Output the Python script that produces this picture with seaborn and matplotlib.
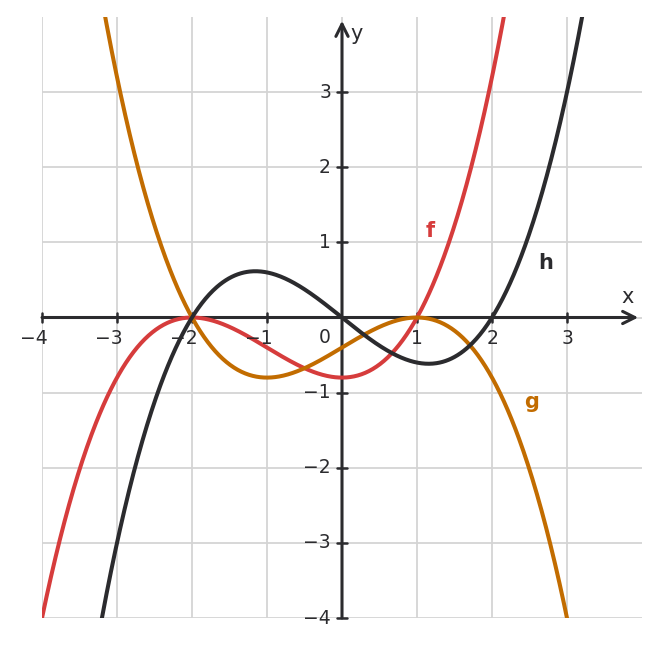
import numpy as np
import pandas as pd
import matplotlib
matplotlib.use("Agg")
import matplotlib.pyplot as plt
import seaborn as sns

# polynomial coefficients (highest power first)
f_coef = [0.2, 0.6, 0.0, -0.8]      # f = 0.2(x+2)^2(x-1)
g_coef = [-0.2, 0.0, 0.6, -0.4]     # g = -0.2(x+2)(x-1)^2
h_coef = [0.2, 0.0, -0.8, 0.0]      # h = 0.2x(x^2-4)

ticks = [-4, -3, -2, -1, 1, 2, 3]
yticks = [-4, -3, -2, -1, 1, 2, 3]

red = "#d63c3c"
orange = "#c26c00"
dark = "#2b2b2e"

sns.set_theme(style="white")
plt.rcParams['font.family'] = ['DejaVu Sans']

xs = np.linspace(-4, 4, 801)
df = pd.DataFrame({
    "x": np.concatenate([xs, xs, xs]),
    "y": np.concatenate([np.polyval(f_coef, xs), np.polyval(g_coef, xs), np.polyval(h_coef, xs)]),
    "fn": ["f"] * len(xs) + ["g"] * len(xs) + ["h"] * len(xs),
})

fig = plt.figure(figsize=(6.61, 6.48), dpi=100)
ax = fig.add_axes([42 / 661, 1 - 618 / 648, 600 / 661, 601 / 648])

# grid (no line on the top / right edge)
for t in range(-4, 4):
    ax.axvline(t, color="#d4d4d4", lw=1.3, zorder=0)
    ax.axhline(t, color="#d4d4d4", lw=1.3, zorder=0)

sns.lineplot(data=df, x="x", y="y", hue="fn", palette={"f": red, "g": orange, "h": dark},
             lw=2.9, legend=False, ax=ax, zorder=3, sort=False, estimator=None)

ax.set_xlim(-4, 4)
ax.set_ylim(-4, 4)
for s in ax.spines.values():
    s.set_visible(False)
ax.set_xticks([])
ax.set_yticks([])
ax.set_xlabel("")
ax.set_ylabel("")

# axes with arrows
ax.annotate("", xy=(3.95, 0), xytext=(-4, 0),
            arrowprops=dict(arrowstyle="->", lw=2.2, color=dark, mutation_scale=22, shrinkA=0, shrinkB=0), zorder=2)
ax.annotate("", xy=(0, 3.95), xytext=(0, -4),
            arrowprops=dict(arrowstyle="->", lw=2.2, color=dark, mutation_scale=22, shrinkA=0, shrinkB=0), zorder=2)

# tick marks and labels
for t in ticks:
    ax.plot([t, t], [-0.065, 0.065], color=dark, lw=1.8, zorder=2, clip_on=False)
    ax.annotate(str(t).replace("-", "\u2212"), xy=(t, 0), xytext=(6, -11), textcoords="offset pixels",
                ha="right", va="top", fontsize=13.5, color=dark)
for t in yticks:
    ax.plot([-0.065, 0.065], [t, t], color=dark, lw=1.8, zorder=2, clip_on=False)
    ax.annotate(str(t).replace("-", "\u2212"), xy=(0, t), xytext=(-11, 0), textcoords="offset pixels",
                ha="right", va="center", fontsize=13.5, color=dark)
ax.text(-0.23, -0.26, "0", ha="center", va="center", fontsize=13.5, color=dark)

ax.text(3.81, 0.27, "x", ha="center", va="center", fontsize=15, color=dark)
ax.text(0.19, 3.77, "y", ha="center", va="center", fontsize=15, color=dark)

ax.text(1.17, 1.15, "f", ha="center", va="center", fontsize=15, fontweight="bold", color=red)
ax.text(2.71, 0.73, "h", ha="center", va="center", fontsize=15, fontweight="bold", color=dark)
ax.text(2.53, -1.12, "g", ha="center", va="center", fontsize=15, fontweight="bold", color=orange)

fig.savefig("out.png", dpi=100, facecolor="white")
